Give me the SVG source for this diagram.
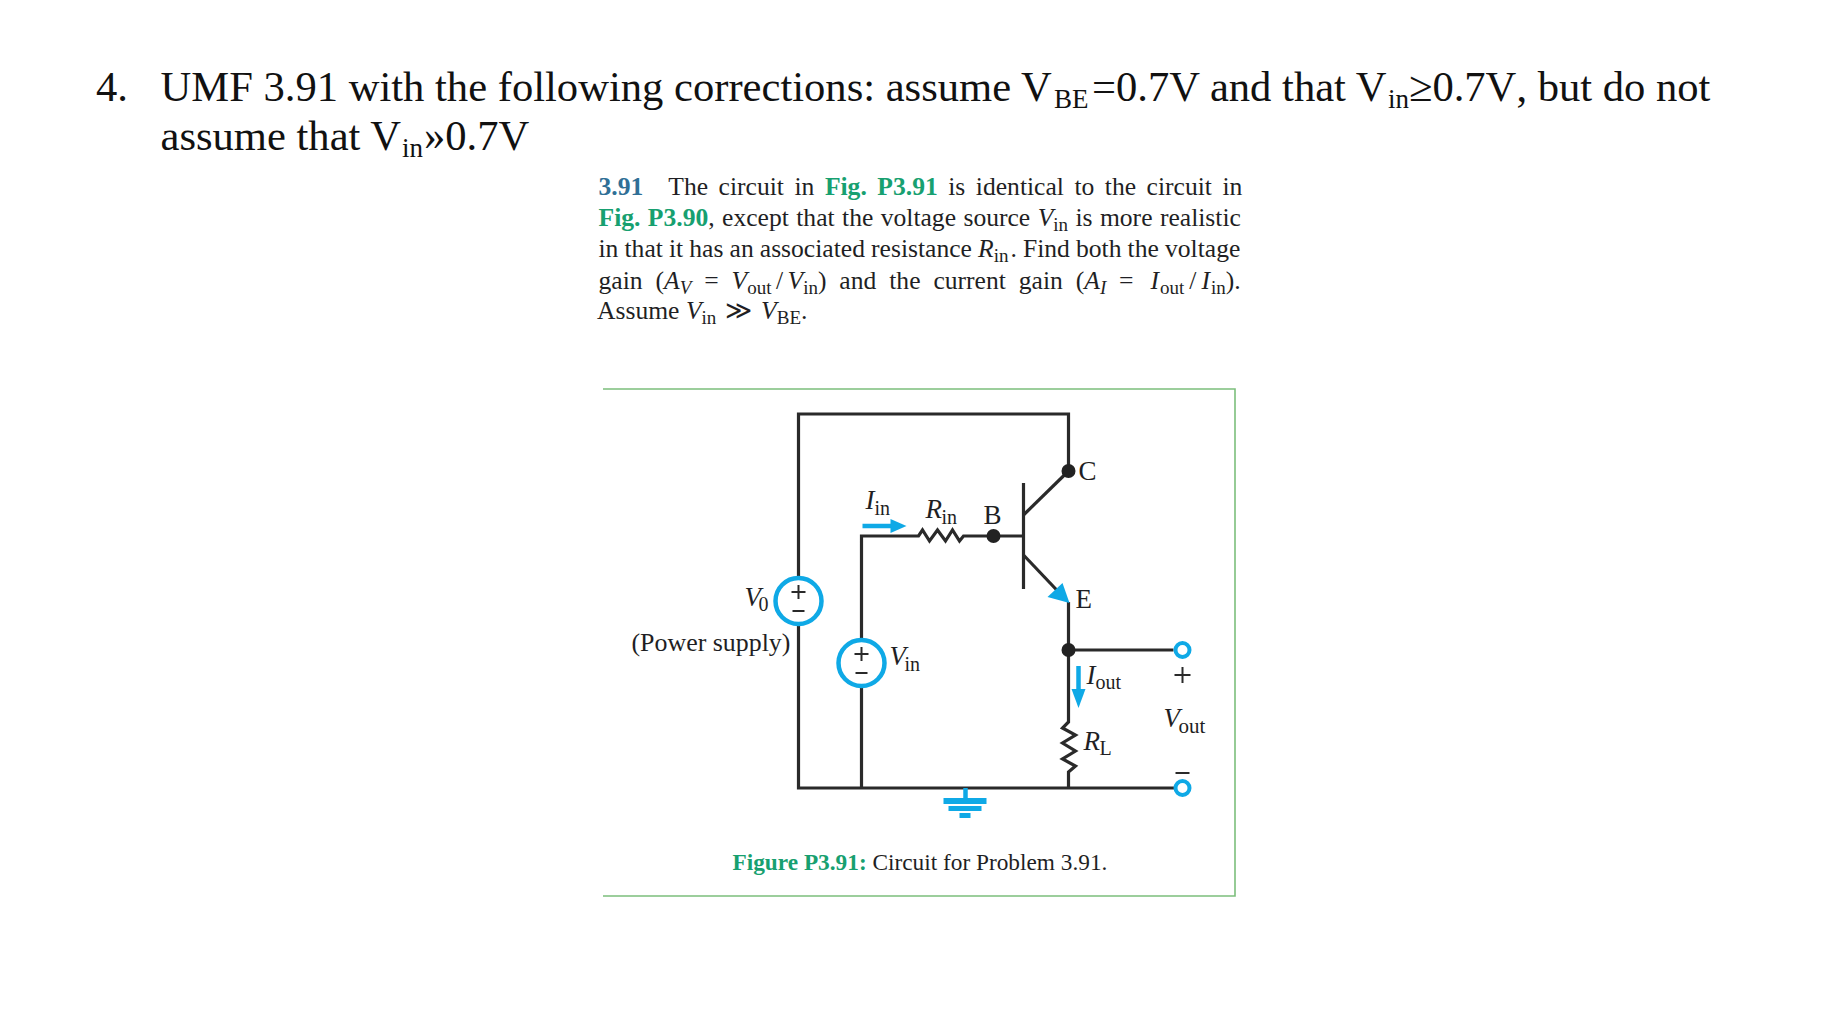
<svg xmlns="http://www.w3.org/2000/svg" width="1836" height="1010" viewBox="0 0 1836 1010">
<style>
text{font-family:"Liberation Serif","Times New Roman",serif;fill:#1f1f24}
.h{font-size:42.6px;fill:#111}
.hs{font-size:27px;fill:#111}
.nk{font-kerning:none}
.p{font-size:25.6px}
.ps{font-size:19px}
.g{fill:#17a070}
.b{font-weight:bold}
.t{fill:#2f6f96}
.i{font-style:italic}
.l{font-size:27px}
.ls{font-size:20px}
.w{fill:none;stroke:#2a2a2a;stroke-width:3.2}
.bl{fill:none;stroke:#0fa9e6;stroke-width:4.5}
.blf{fill:#0fa9e6}
.dot{fill:#222}
.sign{stroke:#2a2a2a;stroke-width:2;fill:none}
.term{fill:#fff;stroke:#0fa9e6;stroke-width:4}
</style>
<rect width="1836" height="1010" fill="#fff"/>
<g id="heading">
<text class="h" x="96" y="101">4.</text>
<text class="h" x="160.5" y="101">UMF 3.91 with the following corrections: assume V</text>
<text class="hs" x="1054" y="108">BE</text>
<text class="h" x="1092" y="101">=0.7V and that V</text>
<text class="hs" x="1388" y="108">in</text>
<text class="h nk" x="1409" y="101">≥0.7V, but do not</text>
<text class="h" x="160.5" y="150">assume that V</text>
<text class="hs" x="402" y="157">in</text>
<text class="h nk" x="424" y="150">»0.7V</text>
</g>
<g id="problem">
<text class="p" y="194.5" x="598.5" word-spacing="4.1"><tspan class="b t">3.91</tspan><tspan dx="25">The circuit in </tspan><tspan class="b g">Fig. P3.91</tspan><tspan> is identical to the circuit in</tspan></text>
<text class="p" y="225.5" x="598.5" word-spacing="1"><tspan class="b g">Fig. P3.90</tspan><tspan>, except that the voltage source </tspan><tspan class="i">V</tspan><tspan class="ps" dy="5">in</tspan><tspan dy="-5"> is more realistic</tspan></text>
<text class="p" y="256.5" x="598.5" word-spacing="-0.3">in that it has an associated resistance <tspan class="i">R</tspan><tspan class="ps" dy="5">in</tspan><tspan dy="-5" dx="2">. Find both the voltage</tspan></text>
<text class="p" y="288.5" x="598.5" word-spacing="6.5">gain (<tspan class="i">A</tspan><tspan class="ps i" dy="5">V</tspan><tspan dy="-5"> = </tspan><tspan class="i">V</tspan><tspan class="ps" dy="5">out</tspan><tspan dy="-5" dx="4.500">/</tspan><tspan class="i" dx="4.500">V</tspan><tspan class="ps" dy="5">in</tspan><tspan dy="-5">) and the current gain (</tspan><tspan class="i">A</tspan><tspan class="ps i" dy="5">I</tspan><tspan dy="-5"> = </tspan><tspan class="i" dx="4">I</tspan><tspan class="ps" dy="5" dx="1">out</tspan><tspan dy="-5" dx="5">/</tspan><tspan class="i" dx="5">I</tspan><tspan class="ps" dy="5" dx="1">in</tspan><tspan dy="-5">).</tspan></text>
<text class="p" y="318.5" x="597">Assume <tspan class="i">V</tspan><tspan class="ps" dy="5">in</tspan><tspan dy="-5" dx="2"> ≫ </tspan><tspan class="i" dx="3">V</tspan><tspan class="ps" dy="5">BE</tspan><tspan dy="-5">.</tspan></text>
</g>
<g id="frame"><path d="M603 389H1235V896H603" fill="none" stroke="#7cbf7c" stroke-width="1.6"/></g>
<g id="connectors" transform="translate(-4.5 -3)">
<path class="w" d="M803 580V417H1073V474"/>
<path class="w" d="M803 628V791H1185"/>
<path class="w" d="M866 642V539H923l4 -6 7 11 8 -11 8 11 7 -11 7 11 4 -5H1028"/>
<path class="w" d="M866 690V791"/>
<path class="w" d="M1028 486V592"/>
<path class="w" d="M1028 518L1073 474"/>
<path class="w" d="M1028 558L1065 597"/>
<path class="w" d="M1073 605V725l-6 6 13 7 -13 8 13 8 -13 8 13 7 -7 6V791"/>
<path class="w" d="M1073 653H1178"/>
<path class="bl" d="M867 529H900"/>
<path class="bl" d="M1083 669V692"/>
<path class="bl" d="M970 791V802"/>
</g>
<g id="arrowheads" transform="translate(-4.5 -3)">
<path class="blf" d="M911 529L895 522V536Z"/>
<path class="blf" d="M1083 711L1076 692H1090Z"/>
<path class="blf" d="M1074 606L1067 586L1052 600Z"/>
</g>
<g id="circuit-nodes" transform="translate(-4.5 -3)">
<g id="V0"><circle cx="803" cy="604" r="23" fill="#fff" stroke="#0fa9e6" stroke-width="4.5"/>
<path class="sign" d="M796 595H810M803 588V602M797 614H809"/>
<text class="l i" x="749" y="609">V</text><text class="ls" x="763" y="614">0</text>
<text x="636" y="654" font-size="25.900">(Power supply)</text></g>
<g id="Vin"><circle cx="866" cy="666" r="23" fill="#fff" stroke="#0fa9e6" stroke-width="4.5"/>
<path class="sign" d="M859 657H873M866 650V664M860 676H872"/>
<text class="l i" x="894" y="668">V</text><text class="ls" x="909" y="674">in</text></g>
<g id="Iin"><text class="l i" x="870" y="512">I</text><text class="ls" x="879" y="518">in</text></g>
<g id="Rin"><text class="l i" x="930" y="521">R</text><text class="ls" x="946" y="527">in</text></g>
<g id="B"><circle class="dot" cx="998" cy="539" r="7"/><text class="l" x="988" y="527">B</text></g>
<g id="C"><circle class="dot" cx="1073" cy="474" r="7"/><text class="l" x="1083" y="483">C</text></g>
<g id="E"><text class="l" x="1080" y="611">E</text></g>
<g id="junction"><circle class="dot" cx="1073" cy="653" r="7"/></g>
<g id="Iout"><text class="l i" x="1091" y="687">I</text><text class="ls" x="1100" y="692">out</text></g>
<g id="RL"><text class="l i" x="1088" y="753">R</text><text class="ls" x="1104" y="758">L</text></g>
<g id="terminal-plus"><circle class="term" cx="1187" cy="653" r="7"/>
<path class="sign" d="M1179 678H1195M1187 670V686"/></g>
<g id="Vout"><text class="l i" x="1168" y="730">V</text><text x="1183" y="736" font-size="21">out</text></g>
<g id="terminal-minus"><path class="sign" d="M1180 776H1194"/><circle class="term" cx="1187" cy="791" r="7"/></g>
<g id="ground"><rect class="blf" x="948" y="801" width="43" height="6"/><rect class="blf" x="953" y="809" width="33" height="5"/><rect class="blf" x="964" y="816" width="11" height="5"/></g>
<g id="caption"><text x="737" y="873" font-size="23.3"><tspan class="b g">Figure P3.91:</tspan><tspan> Circuit for Problem 3.91.</tspan></text></g>
</g>
</svg>
